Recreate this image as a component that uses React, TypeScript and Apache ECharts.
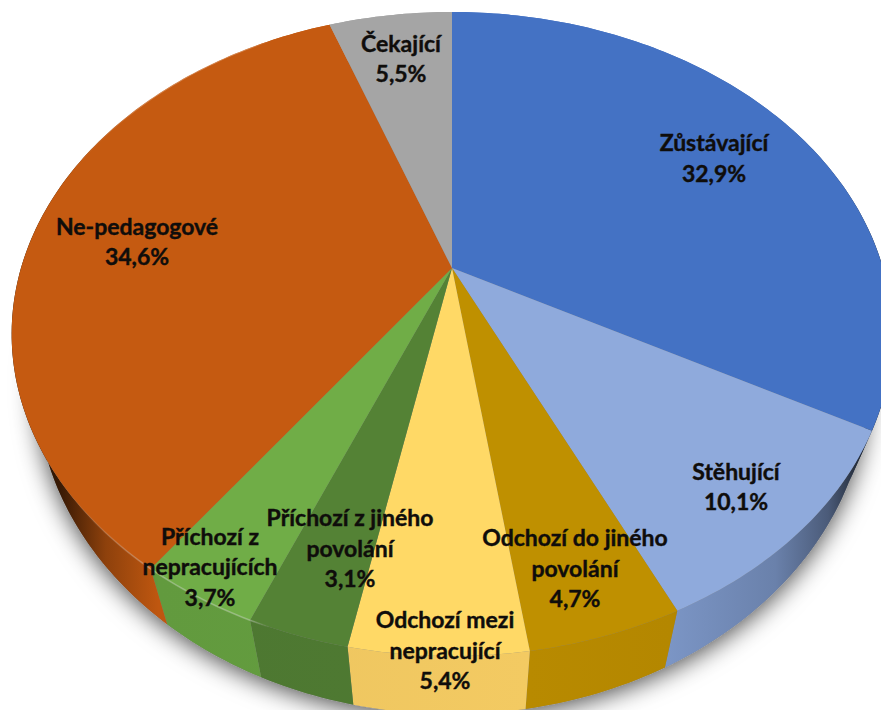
import React, { useEffect, useRef } from "react";
import * as echarts from "echarts";

const categories = [
  "Zůstávající",
  "Stěhující",
  "Odchozí do jiného\npovolání",
  "Odchozí mezi\nnepracující",
  "Příchozí z jiného\npovolání",
  "Příchozí z\nnepracujících",
  "Ne-pedagogové",
  "Čekající",
];
const shares = [32.9, 10.1, 4.7, 5.4, 3.1, 3.7, 34.6, 5.5];
const faceColors = ["#4472c4", "#8faadc", "#bf9000", "#ffd966", "#548235", "#70ad47", "#c55a11", "#a5a5a5"];
const wallColors = ["#4472c4", "#7d98c9", "#b88a00", "#f3ca62", "#4f7b32", "#659f40", "#c55a11", "#a5a5a5"];
const labelCenters = [
  [714, 157.5],
  [736, 486],
  [575, 567.5],
  [445, 649.5],
  [350, 547.5],
  [210, 566],
  [137, 241],
  [401, 58],
];

// Perspective of the tilted disc
const CX = 452;
const CY = 268;
const RX = 431;
const K = 0.205;
const RY = 256 * (1 + K);
const WALL_SCALE_X = 0.945;
const WALL_SCALE_Y = 1.03;
const WALL_SHIFT_Y = 38.5;

function project(t: number, lower: boolean): number[] {
  const u = Math.sin(t);
  const v = -Math.cos(t);
  const w = 1 - K * v;
  const x = CX + (RX * u) / w;
  const y = CY + (RY * v) / w;
  if (!lower) return [x, y];
  return [CX + (x - CX) * WALL_SCALE_X, y * WALL_SCALE_Y + WALL_SHIFT_Y];
}

function arc(a: number, b: number, lower: boolean): number[][] {
  const n = Math.max(2, Math.ceil(Math.abs(b - a) * 60));
  const pts: number[][] = [];
  for (let i = 0; i <= n; i++) pts.push(project(a + ((b - a) * i) / n, lower));
  return pts;
}

const toAngle = (pct: number) => (pct / 100) * Math.PI * 2;

function mix(hex: string, f: number): string {
  const n = parseInt(hex.slice(1), 16);
  const c = [(n >> 16) & 255, (n >> 8) & 255, n & 255].map((q) => Math.round(q * f));
  return `rgb(${c[0]},${c[1]},${c[2]})`;
}

// Side-wall lighting across the picture
const wallLight = [
  [0.03, 0.12],
  [0.07, 0.3],
  [0.12, 0.72],
  [0.18, 0.97],
  [0.6, 1],
  [0.76, 0.98],
  [0.88, 0.85],
  [0.94, 0.6],
  [0.975, 0.28],
  [1, 0.12],
];

function App() {
  const ref = useRef<HTMLDivElement>(null);
  useEffect(() => {
    const chart = echarts.init(ref.current!, null, { renderer: "svg" });
    let acc = 0;
    const spans = shares.map((s, i) => {
      const row = [acc, acc + s, i];
      acc += s;
      return row;
    });
    chart.setOption({
      animation: false,
      backgroundColor: "#ffffff",
      graphic: {
        elements: [
          {
            type: "polygon",
            z: 0,
            shape: { points: arc(0, Math.PI * 2, true) },
            style: {
              fill: "#808080",
              shadowBlur: 24,
              shadowOffsetY: 4,
              shadowColor: "rgba(0,0,0,0.7)",
            },
          },
        ],
      },
      series: [
        {
          type: "custom",
          coordinateSystem: "none",
          silent: true,
          z: 2,
          data: spans,
          renderItem: (_p: any, api: any) => {
            const a = toAngle(api.value(0));
            const b = toAngle(api.value(1));
            const base = wallColors[api.value(2)];
            return {
              type: "polygon",
              shape: { points: [...arc(a, b, false), ...arc(b, a, true)] },
              style: {
                fill: {
                  type: "linear",
                  global: true,
                  x: 0,
                  y: 0,
                  x2: 881,
                  y2: 0,
                  colorStops: wallLight.map(([offset, f]) => ({ offset, color: mix(base, f) })),
                },
              },
            };
          },
        },
        {
          type: "custom",
          coordinateSystem: "none",
          silent: true,
          z: 3,
          data: spans,
          renderItem: (_p: any, api: any) => {
            const a = toAngle(api.value(0));
            const b = toAngle(api.value(1));
            const i = api.value(2);
            return {
              type: "group",
              children: [
                {
                  type: "polygon",
                  shape: { points: [[CX, CY], ...arc(a, b, false)] },
                  style: { fill: faceColors[i] },
                },
                {
                  type: "polyline",
                  shape: { points: arc(a, b, false) },
                  style: {
                    fill: "none",
                    lineWidth: 1.6,
                    stroke: {
                      type: "linear",
                      global: true,
                      x: 70,
                      y: 0,
                      x2: 270,
                      y2: 0,
                      colorStops: [
                        { offset: 0, color: "rgba(255,255,255,0)" },
                        { offset: 0.4, color: "rgba(255,255,255,0.28)" },
                        { offset: 0.9, color: "rgba(255,255,255,0.28)" },
                        { offset: 1, color: "rgba(255,255,255,0)" },
                      ],
                    },
                  },
                },
              ],
            };
          },
        },
        {
          type: "custom",
          coordinateSystem: "none",
          silent: true,
          z: 4,
          data: spans,
          renderItem: (_p: any, api: any) => {
            const i = api.value(2);
            return {
              type: "text",
              x: labelCenters[i][0],
              y: labelCenters[i][1],
              style: {
                text: `${categories[i]}\n${shares[i].toFixed(1).replace(".", ",")}%`,
                align: "center",
                verticalAlign: "middle",
                font: 'bold 23px Lato, "Noto Sans", sans-serif',
                lineHeight: 30.5,
                fill: "#0f0d0b",
                stroke: "#0f0d0b",
                lineWidth: 0.4,
              },
            };
          },
        },
      ],
    });
    return () => chart.dispose();
  }, []);
  return (
    <div
      ref={ref}
      style={{ position: "fixed", left: 0, top: 0, width: 881, height: 710, overflow: "hidden", background: "#fff" }}
    />
  );
}

export default App;
